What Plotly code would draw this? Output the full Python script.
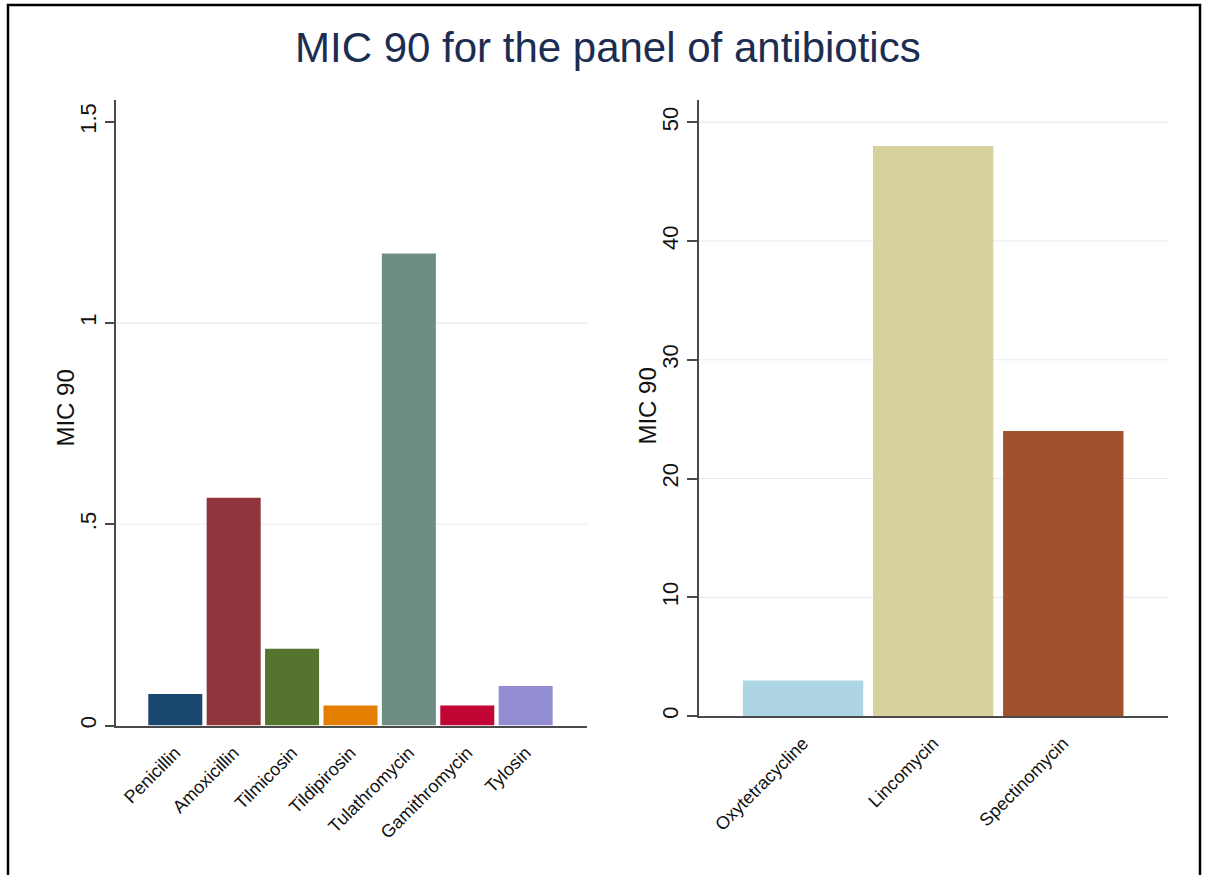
import plotly.graph_objects as go

# ---------------- data ----------------
left_drugs = ["Penicillin", "Amoxicillin", "Tilmicosin", "Tildipirosin",
              "Tulathromycin", "Gamithromycin", "Tylosin"]
left_mic90 = [0.078, 0.566, 0.191, 0.05, 1.173, 0.05, 0.098]
left_colors = ["#1a476f", "#90353b", "#55752f", "#e37e00",
               "#6e8e84", "#c10534", "#938dd2"]

right_drugs = ["Oxytetracycline", "Lincomycin", "Spectinomycin"]
right_mic90 = [3.0, 48.0, 24.0]
right_colors = ["#add5e4", "#d6d19d", "#a0522d"]

left_tickvals = [0, 0.5, 1, 1.5]
left_ticktext = ["0", ".5", "1", "1.5"]
left_gridvals = [0.5, 1]
right_tickvals = [0, 10, 20, 30, 40, 50]
right_ticktext = ["0", "10", "20", "30", "40", "50"]
right_gridvals = [10, 20, 30, 40, 50]

title_text = "MIC 90 for the panel of antibiotics"
ytitle_text = "MIC 90"

# ---------------- layout helpers ----------------
W, H = 1205, 875
FONT = "Liberation Sans, Arial, Helvetica, sans-serif"


def fx(px):
    return px / W


def fy(py):
    return 1 - py / H


fig = go.Figure()
fig.add_trace(go.Bar(x=left_drugs, y=left_mic90, marker_color=left_colors,
                     marker_line_width=0, xaxis="x", yaxis="y", showlegend=False))
fig.add_trace(go.Bar(x=right_drugs, y=right_mic90, marker_color=right_colors,
                     marker_line_width=0, xaxis="x2", yaxis="y2", showlegend=False))

axis_line = dict(showline=True, linecolor="#4a4a4a", linewidth=1.5)

fig.update_layout(
    width=W, height=H,
    margin=dict(l=0, r=0, t=0, b=0),
    paper_bgcolor="white", plot_bgcolor="white",
    font=dict(family=FONT, color="#111111"),
    bargap=0.075,
    xaxis=dict(domain=[fx(116), fx(587)], anchor="y", type="category",
               range=[-1.015, 7.05], tickangle=-45, ticks="",
               ticklabelstandoff=8,
               tickfont=dict(size=18), showgrid=False, **axis_line),
    yaxis=dict(domain=[fy(728), fy(100)], anchor="x", range=[0, 1.555],
               tickvals=left_tickvals, ticktext=left_ticktext, tickangle=-90,
               ticks="outside", ticklen=9, tickcolor="#4a4a4a", tickwidth=1.5,
               tickfont=dict(size=22), showgrid=False, zeroline=False,
               **axis_line),
    xaxis2=dict(domain=[fx(699), fx(1168)], anchor="y2", type="category",
                range=[-0.80, 2.805], tickangle=-45, ticks="",
                ticklabelstandoff=8,
                tickfont=dict(size=18), showgrid=False, **axis_line),
    yaxis2=dict(domain=[fy(718.5), fy(100)], anchor="x2", range=[0, 51.9],
                tickvals=right_tickvals, ticktext=right_ticktext, tickangle=-90,
                ticks="outside", ticklen=10, tickcolor="#4a4a4a", tickwidth=1.5,
                tickfont=dict(size=22), showgrid=False, zeroline=False,
                **axis_line),
)

shapes = []
grid_style = dict(color="#e6ecee", width=1.2)
for v in left_gridvals:
    shapes.append(dict(type="line", xref="x domain", yref="y", x0=0, x1=1,
                       y0=v, y1=v, line=grid_style, layer="below"))
for v in right_gridvals:
    shapes.append(dict(type="line", xref="x2 domain", yref="y2", x0=0, x1=1,
                       y0=v, y1=v, line=grid_style, layer="below"))
# outer frame
shapes.append(dict(type="rect", xref="paper", yref="paper",
                   x0=fx(8), x1=fx(1200), y0=fy(890), y1=fy(5),
                   line=dict(color="black", width=2.5)))
fig.update_layout(shapes=shapes)

annotations = [
    dict(text=title_text, xref="paper", yref="paper", x=fx(607.5), y=fy(48),
         xanchor="center", yanchor="middle", showarrow=False,
         font=dict(size=42, color="#1c2d52", family=FONT)),
    dict(text=ytitle_text, xref="paper", yref="paper", x=fx(66), y=fy(410),
         xanchor="center", yanchor="middle", textangle=-90, showarrow=False,
         font=dict(size=24, color="#111111", family=FONT)),
    dict(text=ytitle_text, xref="paper", yref="paper", x=fx(648), y=fy(408),
         xanchor="center", yanchor="middle", textangle=-90, showarrow=False,
         font=dict(size=24, color="#111111", family=FONT)),
]
fig.update_layout(annotations=annotations)

fig.write_html("out.html", config={"displayModeBar": False},
               post_script="document.body.style.margin='0';")
